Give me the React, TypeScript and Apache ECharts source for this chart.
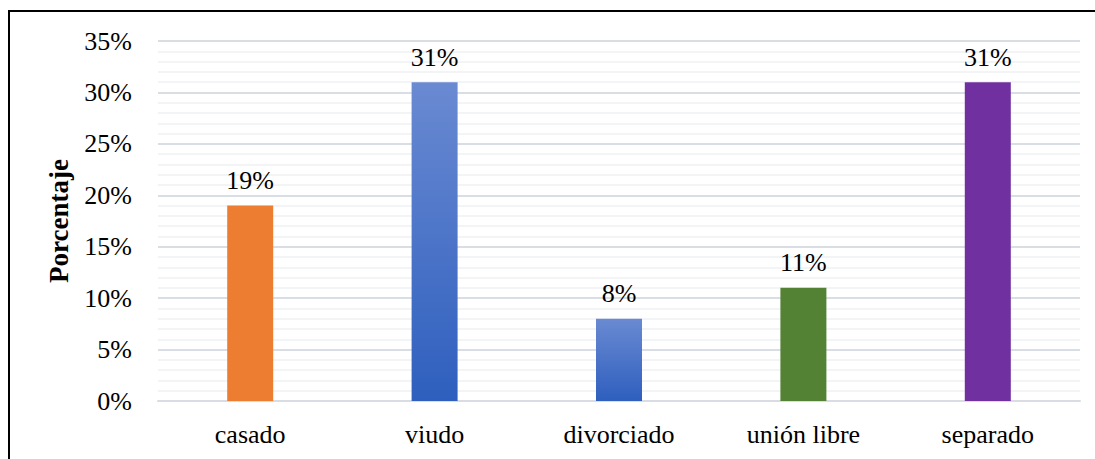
import React, { useEffect, useRef } from "react";
import * as echarts from "echarts";

const categories = ["casado", "viudo", "divorciado", "unión libre", "separado"];
const values = [19, 31, 8, 11, 31];
const yTicks = [0, 5, 10, 15, 20, 25, 30, 35];
const axisTitle = "Porcentaje";

const FONT = "Liberation Serif";

const gradient = () =>
  new echarts.graphic.LinearGradient(0, 0, 0, 1, [
    { offset: 0, color: "#6A8AD2" },
    { offset: 1, color: "#2E5FBE" },
  ]);

const barColors = [
  "#ED7D31",
  gradient(),
  gradient(),
  "#548235",
  "#7030A0",
];

export default function App() {
  const ref = useRef<HTMLDivElement>(null);
  useEffect(() => {
    document.body.style.margin = "0";
    if (!ref.current) return;
    const chart = echarts.init(ref.current, null, { renderer: "svg" });
    chart.setOption({
      animation: false,
      backgroundColor: "#ffffff",
      textStyle: { fontFamily: FONT },
      grid: { left: 158, right: 15, top: 41, bottom: 58 },
      graphic: [
        {
          type: "rect",
          shape: { x: 9, y: 11, width: 1200, height: 600 },
          style: { fill: "none", stroke: "#000000", lineWidth: 2 },
          silent: true,
          z: 100,
        },
      ],
      xAxis: {
        type: "category",
        data: categories,
        axisTick: { show: false },
        axisLine: { show: true, lineStyle: { color: "#D9DDE3", width: 2 } },
        axisLabel: {
          color: "#000000",
          fontFamily: FONT,
          fontSize: 26,
          margin: 20,
        },
      },
      yAxis: {
        type: "value",
        min: yTicks[0],
        max: yTicks[yTicks.length - 1],
        interval: 5,
        name: axisTitle,
        nameLocation: "middle",
        nameGap: 86,
        nameTextStyle: {
          color: "#000000",
          fontFamily: FONT,
          fontSize: 27,
          fontWeight: "bold",
        },
        axisLine: { show: false },
        axisTick: { show: false },
        axisLabel: {
          color: "#000000",
          fontFamily: FONT,
          fontSize: 26,
          margin: 26,
          formatter: (v: number) => `${v}%`,
        },
        splitLine: { show: true, lineStyle: { color: "#D9DEE5", width: 2 } },
        minorTick: { show: false, splitNumber: 5 },
        minorSplitLine: { show: true, lineStyle: { color: "#EFF1F3", width: 1.5 } },
      },
      series: [
        {
          type: "bar",
          data: values.map((v, i) => ({ value: v, itemStyle: { color: barColors[i] } })),
          barWidth: 46,
          label: {
            show: true,
            position: "top",
            distance: 12,
            color: "#000000",
            fontFamily: FONT,
            fontSize: 26,
            formatter: (p: any) => `${p.value}%`,
          },
        },
      ],
    });
    return () => chart.dispose();
  }, []);
  return <div ref={ref} style={{ width: 1095, height: 459 }} />;
}
